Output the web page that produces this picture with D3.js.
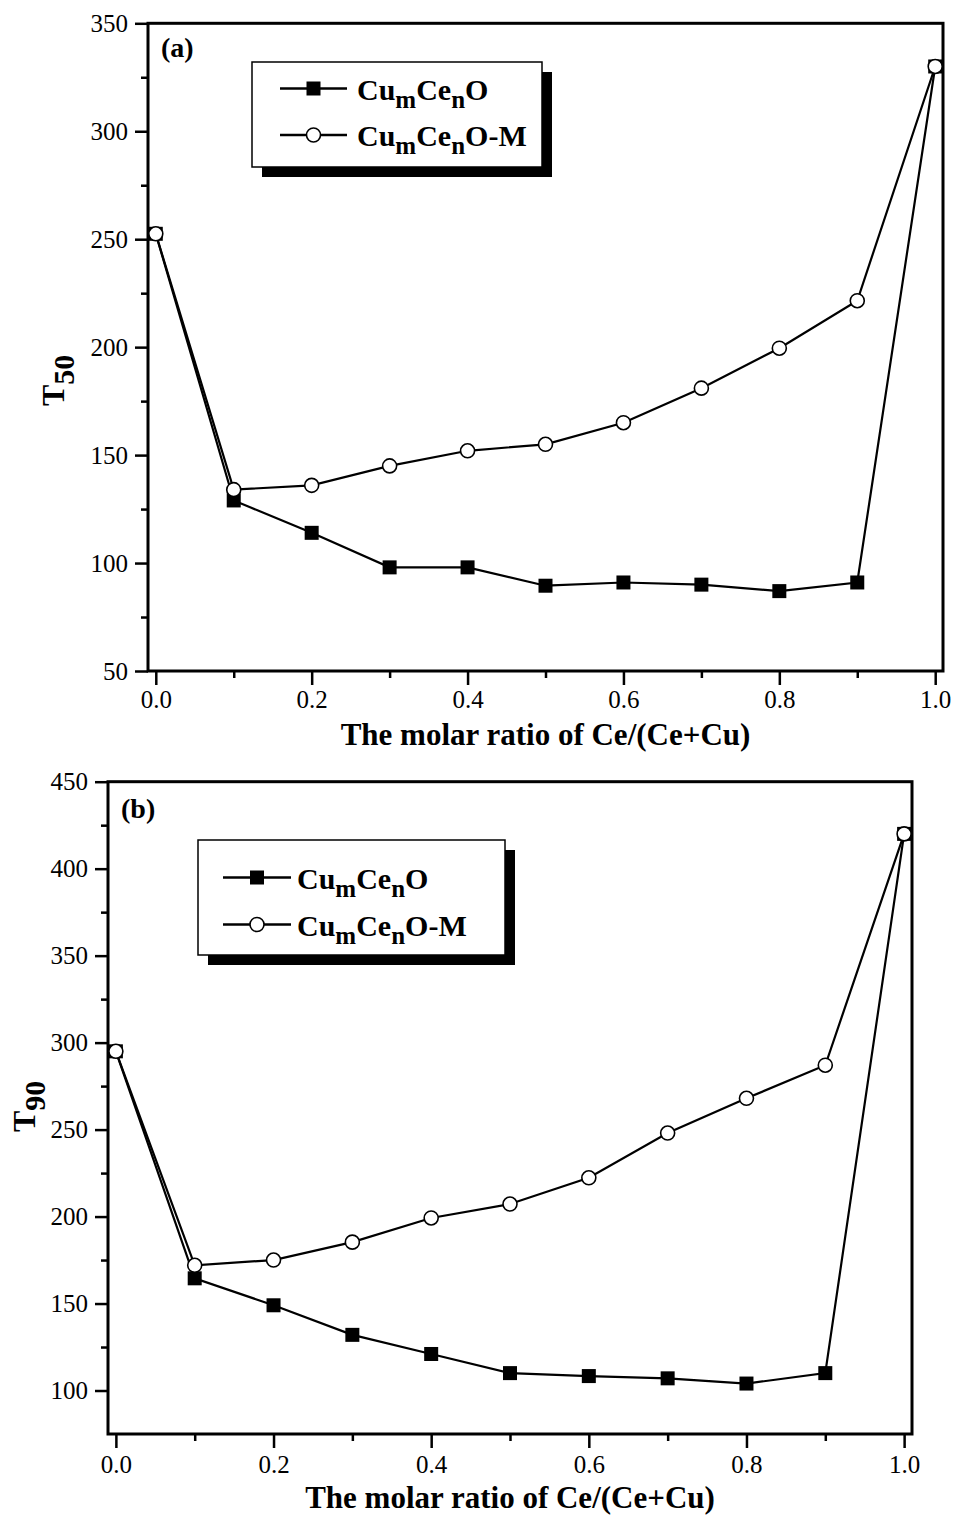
<!DOCTYPE html>
<html>
<head>
<meta charset="utf-8">
<script src="https://cdn.jsdelivr.net/npm/d3@7"></script>
<style>
  html, body { margin: 0; padding: 0; background: #fff; }
  svg { display: block; }
  text { font-family: "Liberation Serif", "Times New Roman", Times, serif; fill: #000; }
</style>
</head>
<body>
<svg id="chart" width="955" height="1519"></svg>
<script>
// Molar ratio Ce/(Ce+Cu) of each catalyst
const ratios = [0.0, 0.1, 0.2, 0.3, 0.4, 0.5, 0.6, 0.7, 0.8, 0.9, 1.0];

// T50 light-off temperatures
const t50Plain    = [252.5, 129, 114, 98, 98, 89.5, 91, 90, 87, 91, 330];
const t50Modified = [252.5, 134, 136, 145, 152, 155, 165, 181, 199.5, 221.5, 330];

// T90 temperatures
const t90Plain    = [295, 164.5, 149, 132, 121, 110, 108.3, 107, 104, 110, 420];
const t90Modified = [295, 172, 175, 185.3, 199.2, 207.2, 222.3, 248, 268, 287, 420];

// Axis ticks
const xMajorTicks = [0.0, 0.2, 0.4, 0.6, 0.8, 1.0];
const xMinorTicks = [0.1, 0.3, 0.5, 0.7, 0.9];
const t50MajorTicks = [50, 100, 150, 200, 250, 300, 350];
const t50MinorTicks = [75, 125, 175, 225, 275, 325];
const t90MajorTicks = [100, 150, 200, 250, 300, 350, 400, 450];
const t90MinorTicks = [125, 175, 225, 275, 325, 375, 425];

const xDomain = [-0.01, 1.01];
const seriesNames = ["Cu|m|Ce|n|O", "Cu|m|Ce|n|O-M"];

const svg = d3.select("#chart");

const panels = [
  {
    tag: "(a)", yLabel: "50",
    plain: t50Plain, modified: t50Modified,
    yDomain: [50, 350], yMajor: t50MajorTicks, yMinor: t50MinorTicks,
    left: 148, right: 943, top: 23.3, bottom: 671,
    xLabelY: 37, titleY: 74,
    yTitleX: 63.5, yTitleStart: 406,
    legend: { x: 252, y: 62, w: 290, h: 105, row1: 88.5, row2: 135, lineX0: 280, lineX1: 347, textX: 357 },
    tagPos: [161, 57]
  },
  {
    tag: "(b)", yLabel: "90",
    plain: t90Plain, modified: t90Modified,
    yDomain: [75, 450], yMajor: t90MajorTicks, yMinor: t90MinorTicks,
    left: 108, right: 912, top: 781.7, bottom: 1434,
    xLabelY: 39, titleY: 74,
    yTitleX: 35, yTitleStart: 1132,
    legend: { x: 198, y: 840, w: 307, h: 115, row1: 877.5, row2: 924.5, lineX0: 223, lineX1: 291, textX: 297 },
    tagPos: [121, 818]
  }
];

function drawLegendLabel(g, label, x, y) {
  const parts = label.split("|");
  const t = g.append("text")
    .attr("x", x).attr("y", y)
    .attr("font-weight", "bold")
    .attr("font-size", 30);
  parts.forEach((p, i) => {
    const sub = i % 2 === 1;
    const prevSub = i > 0 && (i - 1) % 2 === 1;
    t.append("tspan")
      .attr("font-size", sub ? 25 : 30)
      .attr("dy", sub ? 8 : (prevSub ? -8 : 0))
      .text(p);
  });
}

panels.forEach(p => {
  const x = d3.scaleLinear().domain(xDomain).range([p.left, p.right]);
  const y = d3.scaleLinear().domain(p.yDomain).range([p.bottom, p.top]);
  const g = svg.append("g");

  // bottom axis: major + minor ticks
  const xAxisG = g.append("g").attr("transform", `translate(0,${p.bottom})`);
  xAxisG.call(d3.axisBottom(x).tickValues(xMajorTicks).tickSize(14).tickSizeOuter(0).tickFormat(d3.format(".1f")));
  xAxisG.select(".domain").remove();
  xAxisG.selectAll("line").attr("stroke", "#000").attr("stroke-width", 2.5);
  xAxisG.selectAll("text").attr("y", p.xLabelY).attr("dy", 0).attr("font-size", 25).attr("font-family", null);
  const xMinorG = g.append("g").attr("transform", `translate(0,${p.bottom})`);
  xMinorG.call(d3.axisBottom(x).tickValues(xMinorTicks).tickSize(7).tickSizeOuter(0).tickFormat(""));
  xMinorG.select(".domain").remove();
  xMinorG.selectAll("line").attr("stroke", "#000").attr("stroke-width", 2.5);

  // left axis: major + minor ticks
  const yAxisG = g.append("g").attr("transform", `translate(${p.left},0)`);
  yAxisG.call(d3.axisLeft(y).tickValues(p.yMajor).tickSize(13).tickSizeOuter(0).tickFormat(d3.format("d")));
  yAxisG.select(".domain").remove();
  yAxisG.selectAll("line").attr("stroke", "#000").attr("stroke-width", 2.5);
  yAxisG.selectAll("text").attr("x", -20).attr("dy", "0.33em").attr("font-size", 25).attr("font-family", null);
  const yMinorG = g.append("g").attr("transform", `translate(${p.left},0)`);
  yMinorG.call(d3.axisLeft(y).tickValues(p.yMinor).tickSize(7).tickSizeOuter(0).tickFormat(""));
  yMinorG.select(".domain").remove();
  yMinorG.selectAll("line").attr("stroke", "#000").attr("stroke-width", 2.5);

  // plot frame
  g.append("rect")
    .attr("x", p.left).attr("y", p.top)
    .attr("width", p.right - p.left).attr("height", p.bottom - p.top)
    .attr("fill", "none").attr("stroke", "#000").attr("stroke-width", 3);

  // axis titles
  g.append("text")
    .attr("x", (p.left + p.right) / 2).attr("y", p.bottom + p.titleY)
    .attr("text-anchor", "middle")
    .attr("font-weight", "bold").attr("font-size", 31)
    .text("The molar ratio of Ce/(Ce+Cu)");

  const yt = g.append("text")
    .attr("transform", `translate(${p.yTitleX},${p.yTitleStart}) rotate(-90)`)
    .attr("font-weight", "bold").attr("font-size", 32);
  yt.append("tspan").text("T");
  yt.append("tspan").attr("dy", 10).attr("font-size", 30).text(p.yLabel);

  // panel tag
  g.append("text")
    .attr("x", p.tagPos[0]).attr("y", p.tagPos[1])
    .attr("font-weight", "bold").attr("font-size", 28)
    .text(p.tag);

  // data series
  const line = d3.line().x((d, i) => x(ratios[i])).y(d => y(d));
  g.append("path").datum(p.plain)
    .attr("d", line).attr("fill", "none").attr("stroke", "#000").attr("stroke-width", 2.2);
  g.selectAll(".sq").data(p.plain).join("rect")
    .attr("x", (d, i) => x(ratios[i]) - 7).attr("y", d => y(d) - 7)
    .attr("width", 14).attr("height", 14).attr("fill", "#000");

  g.append("path").datum(p.modified)
    .attr("d", line).attr("fill", "none").attr("stroke", "#000").attr("stroke-width", 2.2);
  g.selectAll(".ci").data(p.modified).join("circle")
    .attr("cx", (d, i) => x(ratios[i])).attr("cy", d => y(d))
    .attr("r", 7).attr("fill", "#fff").attr("stroke", "#000").attr("stroke-width", 1.6);

  // legend with drop shadow
  const L = p.legend;
  g.append("rect").attr("x", L.x + 10).attr("y", L.y + 10).attr("width", L.w).attr("height", L.h).attr("fill", "#000");
  g.append("rect").attr("x", L.x).attr("y", L.y).attr("width", L.w).attr("height", L.h)
    .attr("fill", "#fff").attr("stroke", "#000").attr("stroke-width", 1.5);
  const midX = (L.lineX0 + L.lineX1) / 2;
  [L.row1, L.row2].forEach((ry, k) => {
    g.append("line").attr("x1", L.lineX0).attr("x2", L.lineX1).attr("y1", ry).attr("y2", ry)
      .attr("stroke", "#000").attr("stroke-width", 2.5);
    if (k === 0) {
      g.append("rect").attr("x", midX - 7).attr("y", ry - 7).attr("width", 14).attr("height", 14).attr("fill", "#000");
    } else {
      g.append("circle").attr("cx", midX).attr("cy", ry).attr("r", 7)
        .attr("fill", "#fff").attr("stroke", "#000").attr("stroke-width", 1.6);
    }
    drawLegendLabel(g, seriesNames[k], L.textX, ry + 11);
  });
});
</script>
</body>
</html>
